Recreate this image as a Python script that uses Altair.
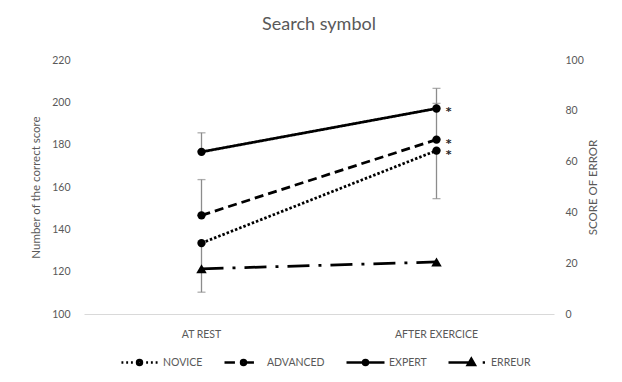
import altair as alt
import pandas as pd

phases = ["AT REST", "AFTER EXERCICE"]
series_names = ["NOVICE", "ADVANCED", "EXPERT", "ERREUR"]
novice = [133.5, 177.2]
advanced = [146.6, 182.4]
expert = [176.6, 197.1]
erreur = [17.8, 20.5]
novice_low = [110.3, 154.5]
advanced_high = [163.5, 199.5]
expert_high = [185.6, 206.6]
signif = ["", "*"]

FONT = "Lato"
GREY = "#595959"

rows = []
for name, vals, lows, highs in [
    ("NOVICE", novice, novice_low, novice),
    ("ADVANCED", advanced, advanced, advanced_high),
    ("EXPERT", expert, expert, expert_high),
]:
    for i, p in enumerate(phases):
        rows.append(dict(series=name, phase=p, value=vals[i], low=lows[i], high=highs[i], sig=signif[i]))
left_df = pd.DataFrame(rows)

cap_rows = []
for r in rows:
    if r["low"] != r["value"]:
        cap_rows.append(dict(series=r["series"], phase=r["phase"], cap=r["low"]))
    if r["high"] != r["value"]:
        cap_rows.append(dict(series=r["series"], phase=r["phase"], cap=r["high"]))
cap_df = pd.DataFrame(cap_rows)

right_df = pd.DataFrame({"series": ["ERREUR"] * 2, "phase": phases, "value": erreur})
legend_df = pd.DataFrame({"series": series_names, "phase": [phases[0]] * 4})


def circ(cx, r):
    return f"M{cx - r},0a{r},{r} 0 1,0 {2 * r},0a{r},{r} 0 1,0 {-2 * r},0"


def disc(cx):
    return circ(cx, 0.13) + circ(cx, 0.05)


def tri(cx, s):
    return f"M{cx},{-s}L{cx + s * 0.95},{s * 0.65}L{cx - s * 0.95},{s * 0.65}Z"


shape_paths = [
    "".join(f"M{x},0h0.1" for x in [-0.95, -0.7, -0.45, 0.35, 0.6, 0.85]) + disc(0),
    "M-1,0H-0.45M0,0H0.55" + disc(0),
    "M-1,0H1" + disc(0),
    "M-1,0H0.3" + tri(0.2, 0.2) + tri(0.2, 0.08) + "M0.8,0h0.12",
]

x_scale = alt.Scale(type="band", domain=phases, paddingInner=0, paddingOuter=0)
x_enc = alt.X(
    "phase:N",
    scale=x_scale,
    title=None,
    axis=alt.Axis(
        labelAngle=0, ticks=False, grid=False, domainColor="#d9d9d9", domainWidth=1,
        labelFont=FONT, labelFontSize=10.5, labelColor=GREY, labelPadding=15,
    ),
)

left_axis = alt.Axis(
    values=[100, 120, 140, 160, 180, 200, 220], grid=False, domain=False, ticks=False,
    labelFont=FONT, labelFontSize=10.5, labelColor=GREY, labelPadding=14,
    titleFont=FONT, titleFontSize=11.5, titleColor=GREY, titleFontWeight="normal", titlePadding=10,
)
right_axis = alt.Axis(
    orient="right", values=[0, 20, 40, 60, 80, 100], grid=False, domain=False, ticks=False,
    labelFont=FONT, labelFontSize=10.5, labelColor=GREY, labelPadding=11,
    titleFont=FONT, titleFontSize=11.5, titleColor=GREY, titleFontWeight="normal", titlePadding=15,
    titleAngle=270,
)
LEFT_TITLE = "Number of the correct score"
RIGHT_TITLE = "SCORE OF ERROR"
lscale = alt.Scale(domain=[100, 220])
rscale = alt.Scale(domain=[0, 100])


def yl(field):
    return alt.Y(field, scale=lscale, axis=left_axis, title=LEFT_TITLE)


def yr(field):
    return alt.Y(field, scale=rscale, axis=right_axis, title=RIGHT_TITLE)


base_l = alt.Chart(left_df)

err_rules = base_l.mark_rule(color="#8c8c8c", strokeWidth=1.3).encode(
    x=x_enc, y=yl("low:Q"), y2="high:Q"
)
err_caps = alt.Chart(cap_df).mark_tick(color="#8c8c8c", thickness=1.3, size=8).encode(
    x=x_enc, y=yl("cap:Q")
)
lines = base_l.mark_line(color="black", strokeWidth=2.75).encode(
    x=x_enc,
    y=yl("value:Q"),
    detail="series:N",
    strokeDash=alt.StrokeDash(
        "series:N",
        scale=alt.Scale(domain=series_names[:3], range=[[2.5, 2], [9, 5], [1, 0]]),
        legend=None,
    ),
)
dots = base_l.mark_circle(color="black", opacity=1, size=70).encode(x=x_enc, y=yl("value:Q"))
stars = base_l.transform_filter("datum.sig != ''").mark_text(
    font="DejaVu Sans", fontSize=11, fontWeight="bold", dx=12, dy=4, color="#262626"
).encode(x=x_enc, y=yl("value:Q"), text="sig:N")

legend_layer = alt.Chart(legend_df).mark_point(
    filled=False, stroke="black", color="black", strokeWidth=2.5, opacity=0, size=1444
).encode(
    x=x_enc,
    shape=alt.Shape(
        "series:N",
        scale=alt.Scale(domain=series_names, range=shape_paths),
        legend=alt.Legend(
            title=None, orient="none", direction="horizontal", legendX=35, legendY=282,
            symbolSize=1444, symbolStrokeWidth=2.5, symbolStrokeColor="black",
            symbolOpacity=1, labelFont=FONT, labelFontSize=10.5, labelColor=GREY,
            columnPadding=16, labelOffset=3,
        ),
    ),
)

left_group = alt.layer(err_rules, err_caps, lines, dots, stars, legend_layer)

base_r = alt.Chart(right_df)
r_line = base_r.mark_line(color="black", strokeWidth=2.75, strokeDash=[22, 9, 3, 9]).encode(
    x=x_enc, y=yr("value:Q")
)
r_pts = base_r.mark_point(shape="triangle-up", filled=True, color="black", opacity=1, size=110).encode(
    x=x_enc, y=yr("value:Q")
)
right_group = alt.layer(r_line, r_pts)

chart = (
    alt.layer(left_group, right_group)
    .resolve_scale(y="independent")
    .properties(
        width=470,
        height=254,
        title=alt.Title(
            "Search symbol", font=FONT, fontSize=18, fontWeight="normal", color=GREY,
            anchor="middle", offset=21,
        ),
        padding={"left": 22, "top": 8, "right": 5, "bottom": 5},
    )
    .configure_view(stroke=None)
)

chart.save("out.html", embed_options={"renderer": "svg", "actions": False})
